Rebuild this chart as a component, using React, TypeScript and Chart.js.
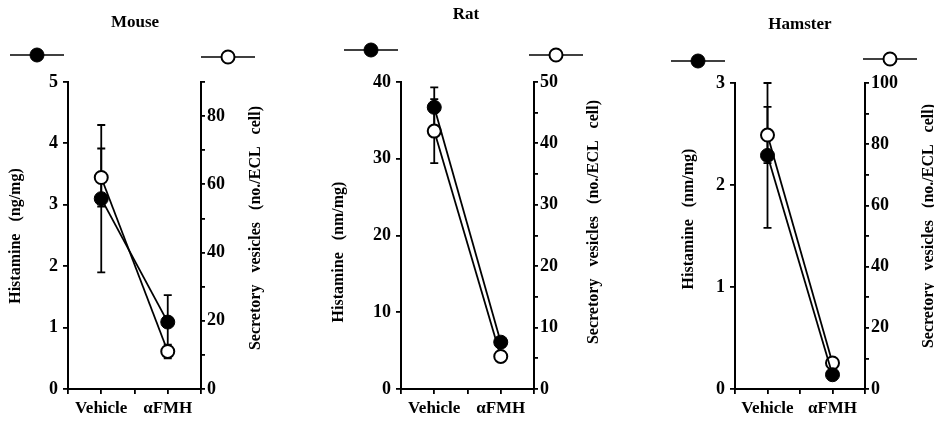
import React, { useEffect, useRef } from "react";
import { Chart, registerables } from "chart.js";

Chart.register(...registerables);

// ---------- data ----------
const categories = ["Vehicle", "αFMH"];

const mouseHistamine = [3.1, 1.09];
const mouseHistamineSem = [1.2, 0.44];
const mouseVesicles = [62, 11];
const mouseVesiclesSem = [8.5, 2];

const ratHistamine = [36.7, 6.1];
const ratHistamineSem = [2.6, 0.6];
const ratVesicles = [42, 5.3];
const ratVesiclesSem = [5.2, 0.8];

const hamsterHistamine = [2.29, 0.14];
const hamsterHistamineSem = [0.71, 0.04];
const hamsterVesicles = [83, 8.5];
const hamsterVesiclesSem = [9.2, 1.5];

// axis ranges / tick steps
const mouseLeftAxis = { max: 5, step: 1, labelEvery: 1 };
const mouseRightAxis = { max: 90, step: 10, labelEvery: 20 };
const ratLeftAxis = { max: 40, step: 10, labelEvery: 10 };
const ratRightAxis = { max: 50, step: 5, labelEvery: 10 };
const hamsterLeftAxis = { max: 3, step: 1, labelEvery: 1 };
const hamsterRightAxis = { max: 100, step: 10, labelEvery: 20 };

const FONT = "'Liberation Serif', 'Times New Roman', serif";

const panels = [
  {
    key: "mouse",
    title: "Mouse",
    leftTitle: "Histamine   (ng/mg)",
    rightTitle: "Secretory   vesicles   (no./ECL   cell)",
    hist: mouseHistamine,
    histErr: mouseHistamineSem,
    ves: mouseVesicles,
    vesErr: mouseVesiclesSem,
    left: mouseLeftAxis,
    right: mouseRightAxis,
    x: 0,
    w: 311,
    area: { left: 68, right: 201, top: 82, bottom: 389 },
    titlePos: [135, 23],
    legFilled: [37, 55],
    legOpen: [228, 57],
    leftTitlePos: [16, 236],
    rightTitlePos: [256, 228],
  },
  {
    key: "rat",
    title: "Rat",
    leftTitle: "Histamine   (nm/mg)",
    rightTitle: "Secretory   vesicles   (no./ECL   cell)",
    hist: ratHistamine,
    histErr: ratHistamineSem,
    ves: ratVesicles,
    vesErr: ratVesiclesSem,
    left: ratLeftAxis,
    right: ratRightAxis,
    x: 311,
    w: 311,
    area: { left: 90, right: 223, top: 82, bottom: 389 },
    titlePos: [155, 15],
    legFilled: [60, 50],
    legOpen: [245, 55],
    leftTitlePos: [28, 252],
    rightTitlePos: [283, 222],
  },
  {
    key: "hamster",
    title: "Hamster",
    leftTitle: "Histamine   (nm/mg)",
    rightTitle: "Secretory   vesicles   (no./ECL   cell)",
    hist: hamsterHistamine,
    histErr: hamsterHistamineSem,
    ves: hamsterVesicles,
    vesErr: hamsterVesiclesSem,
    left: hamsterLeftAxis,
    right: hamsterRightAxis,
    x: 622,
    w: 312,
    area: { left: 113, right: 243, top: 83, bottom: 389 },
    titlePos: [178, 25],
    legFilled: [76, 61],
    legOpen: [268, 59],
    leftTitlePos: [67, 219],
    rightTitlePos: [307, 226],
  },
];

const H = 421;

function makeDecor(p: any) {
  return {
    id: "decor_" + p.key,
    beforeDatasetsDraw(chart: any) {
      const ctx = chart.ctx;
      const xs = chart.scales.x;
      const sets: any[] = [
        [p.hist, p.histErr, "yL"],
        [p.ves, p.vesErr, "yR"],
      ];
      ctx.save();
      ctx.strokeStyle = "#000";
      ctx.lineWidth = 1.8;
      sets.forEach(([vals, errs, id]) => {
        const ys = chart.scales[id];
        vals.forEach((v: number, i: number) => {
          const x = xs.getPixelForValue(i);
          const yT = ys.getPixelForValue(v + errs[i]);
          const yB = ys.getPixelForValue(v - errs[i]);
          ctx.beginPath();
          ctx.moveTo(x, yT);
          ctx.lineTo(x, yB);
          ctx.moveTo(x - 4, yT);
          ctx.lineTo(x + 4, yT);
          ctx.moveTo(x - 4, yB);
          ctx.lineTo(x + 4, yB);
          ctx.stroke();
        });
      });
      ctx.restore();
    },
    afterDraw(chart: any) {
      const ctx = chart.ctx;
      ctx.save();
      ctx.fillStyle = "#000";
      // panel title
      ctx.font = `bold 17px ${FONT}`;
      ctx.textAlign = "center";
      ctx.textBaseline = "middle";
      ctx.fillText(p.title, p.titlePos[0], p.titlePos[1]);
      // legend glyphs
      const glyph = (pos: number[], filled: boolean) => {
        ctx.beginPath();
        ctx.lineWidth = 1.5;
        ctx.strokeStyle = "#000";
        ctx.moveTo(pos[0] - 27, pos[1]);
        ctx.lineTo(pos[0] + 27, pos[1]);
        ctx.stroke();
        ctx.beginPath();
        ctx.arc(pos[0], pos[1], filled ? 7 : 6.5, 0, Math.PI * 2);
        ctx.fillStyle = filled ? "#000" : "#fff";
        ctx.fill();
        ctx.lineWidth = filled ? 1 : 2;
        ctx.stroke();
      };
      glyph(p.legFilled, true);
      glyph(p.legOpen, false);
      // axis titles (both read bottom-to-top)
      ctx.fillStyle = "#000";
      ctx.font = `bold 16px ${FONT}`;
      const vtext = (t: string, pos: number[]) => {
        ctx.save();
        ctx.translate(pos[0], pos[1]);
        ctx.rotate(-Math.PI / 2);
        ctx.textAlign = "center";
        ctx.textBaseline = "middle";
        ctx.fillText(t, 0, 0);
        ctx.restore();
      };
      vtext(p.leftTitle, p.leftTitlePos);
      vtext(p.rightTitle, p.rightTitlePos);
      ctx.restore();
    },
  };
}

function Panel({ p }: { p: any }) {
  const ref = useRef<HTMLCanvasElement | null>(null);
  useEffect(() => {
    if (!ref.current) return;
    const a = p.area;
    const tickFont = { family: FONT, size: 18, weight: "bold" as const };
    const chart = new Chart(ref.current, {
      type: "line",
      data: {
        datasets: [
          {
            label: "Histamine",
            data: p.hist.map((v: number, i: number) => ({ x: i, y: v })),
            yAxisID: "yL",
            borderColor: "#000",
            borderWidth: 1.8,
            pointRadius: 7,
            pointBackgroundColor: "#000",
            pointBorderColor: "#000",
            pointBorderWidth: 1,
            tension: 0,
          },
          {
            label: "Secretory vesicles",
            data: p.ves.map((v: number, i: number) => ({ x: i, y: v })),
            yAxisID: "yR",
            borderColor: "#000",
            borderWidth: 1.8,
            pointRadius: 6.5,
            pointBackgroundColor: "#fff",
            pointBorderColor: "#000",
            pointBorderWidth: 2,
            tension: 0,
          },
        ],
      },
      options: {
        animation: false,
        responsive: false,
        maintainAspectRatio: false,
        events: [],
        layout: { padding: { top: a.top, left: 0, right: 0, bottom: 0 } },
        plugins: {
          legend: { display: false },
          tooltip: { enabled: false },
          title: { display: false },
        },
        scales: {
          x: {
            type: "linear",
            min: -0.5,
            max: 1.5,
            afterFit: (s: any) => {
              s.height = H - a.bottom;
            },
            ticks: {
              stepSize: 0.5,
              autoSkip: false,
              maxRotation: 0,
              color: "#000",
              padding: 4,
              font: { family: FONT, size: 17, weight: "bold" },
              callback: (v: any) => {
                const n = Number(v);
                return Number.isInteger(n) && categories[n] !== undefined ? categories[n] : "";
              },
            },
            grid: { drawOnChartArea: false, tickLength: 5, color: "#000", lineWidth: 1.8 },
            border: { color: "#000", width: 2 },
          },
          yL: {
            type: "linear",
            position: "left",
            min: 0,
            max: p.left.max,
            afterFit: (s: any) => {
              s.width = a.left;
            },
            ticks: {
              stepSize: p.left.step,
              autoSkip: false,
              color: "#000",
              padding: 5,
              font: tickFont,
              callback: (v: any) => (Number(v) % p.left.labelEvery === 0 ? String(v) : ""),
            },
            grid: { drawOnChartArea: false, tickLength: 5, color: "#000", lineWidth: 1.8 },
            border: { color: "#000", width: 2 },
          },
          yR: {
            type: "linear",
            position: "right",
            min: 0,
            max: p.right.max,
            afterFit: (s: any) => {
              s.width = p.w - a.right;
            },
            ticks: {
              stepSize: p.right.step,
              autoSkip: false,
              color: "#000",
              padding: 2,
              font: tickFont,
              callback: (v: any) => (Number(v) % p.right.labelEvery === 0 ? String(v) : ""),
            },
            grid: { drawOnChartArea: false, tickLength: 4, color: "#000", lineWidth: 1.8 },
            border: { color: "#000", width: 2 },
          },
        },
      },
      plugins: [makeDecor(p)],
    });
    return () => chart.destroy();
  }, [p]);
  return (
    <canvas
      ref={ref}
      width={p.w}
      height={H}
      style={{ position: "absolute", left: p.x, top: 0, width: p.w, height: H }}
    />
  );
}

export default function App() {
  return (
    <div
      style={{
        position: "absolute",
        left: 0,
        top: 0,
        width: 934,
        height: H,
        background: "#fff",
        overflow: "hidden",
      }}
    >
      {panels.map((p) => (
        <Panel key={p.key} p={p} />
      ))}
    </div>
  );
}
